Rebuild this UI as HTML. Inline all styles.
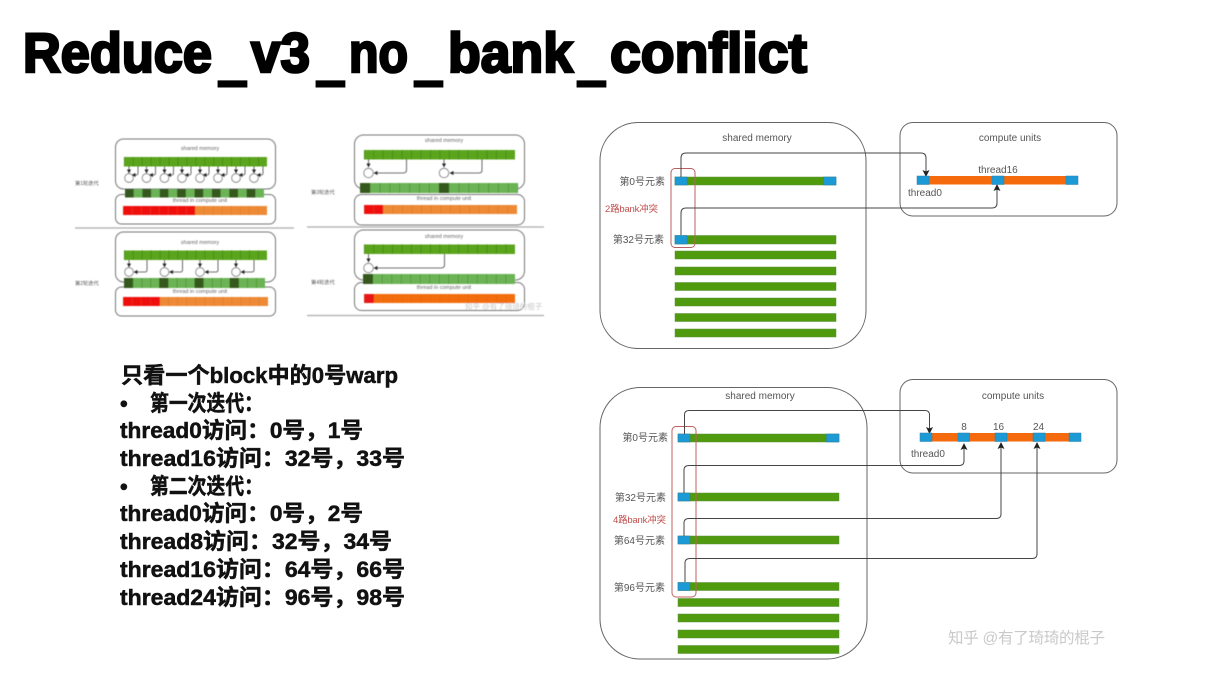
<!DOCTYPE html>
<html lang="zh"><head><meta charset="utf-8"><title>Reduce_v3_no_bank_conflict</title>
<style>
html,body{margin:0;padding:0;background:#fff}
svg{display:block;font-family:"Liberation Sans","Noto Sans CJK SC",sans-serif}
.box{fill:none;stroke:#666;stroke-width:1}
.tb{fill:none;stroke:#777;stroke-width:1}
.con{fill:none;stroke:#444;stroke-width:1}
.t{fill:#555;font-size:10px}
.th{fill:#666;font-size:5.500px;text-anchor:middle}
.tl{fill:#555;font-size:5.200px}
.g{fill:#4f9a10;stroke:#5b8f3a;stroke-width:.5}
.b{fill:#1b9ad6;stroke:#2a7fa8;stroke-width:.5}
.o{fill:#f56a0a}
.big{font-size:22px;font-weight:bold;fill:#111;stroke:#111;stroke-width:.5}
.ti{font-size:56px;font-weight:bold;fill:#000;stroke:#000;stroke-width:2.600}
.us{font-size:56px;font-weight:bold;fill:#000;stroke:#000;stroke-width:5}
</style></head><body>
<svg width="1216" height="677" viewBox="0 0 1216 677" xmlns="http://www.w3.org/2000/svg">
<defs>
<marker id="a" markerWidth="8" markerHeight="8" refX="6" refY="3.500" orient="auto" markerUnits="userSpaceOnUse"><path d="M0 0L7 3.500L0 7L1.500 3.500Z" fill="#222"/></marker>
<marker id="s" markerWidth="5" markerHeight="5" refX="3.500" refY="2" orient="auto" markerUnits="userSpaceOnUse"><path d="M0 0L4 2L0 4Z" fill="#222"/></marker>
<filter id="bl" x="-5%" y="-5%" width="110%" height="110%"><feGaussianBlur stdDeviation=".45"/></filter>
<filter id="bs" x="-5%" y="-5%" width="110%" height="110%"><feGaussianBlur stdDeviation=".35"/></filter>
<g id="c1"><circle cx="0" cy="0" r="4.300" fill="#fff" stroke="#666" stroke-width=".8"/><path d="M0 -12V-5" stroke="#444" stroke-width=".8" marker-end="url(#s)"/><path d="M9 -12V-5Q9 -3 7 -3H3" fill="none" stroke="#444" stroke-width=".8" marker-end="url(#s)"/></g>
<g id="c2"><circle cx="0" cy="0" r="4.300" fill="#fff" stroke="#666" stroke-width=".8"/><path d="M0 -12V-5" stroke="#444" stroke-width=".8" marker-end="url(#s)"/><path d="M18 -12V-2Q18 0 16 0H5" fill="none" stroke="#444" stroke-width=".8" marker-end="url(#s)"/></g>
</defs>

<text class="ti" x="23" y="72" textLength="189" lengthAdjust="spacingAndGlyphs">Reduce</text>
<text class="us" x="220" y="78" textLength="25" lengthAdjust="spacingAndGlyphs">_</text>
<text class="ti" x="251" y="72" textLength="59" lengthAdjust="spacingAndGlyphs">v3</text>
<text class="us" x="318" y="78" textLength="25" lengthAdjust="spacingAndGlyphs">_</text>
<text class="ti" x="349" y="72" textLength="59" lengthAdjust="spacingAndGlyphs">no</text>
<text class="us" x="416" y="78" textLength="25" lengthAdjust="spacingAndGlyphs">_</text>
<text class="ti" x="448" y="72" textLength="125" lengthAdjust="spacingAndGlyphs">bank</text>
<text class="us" x="579" y="78" textLength="25" lengthAdjust="spacingAndGlyphs">_</text>
<text class="ti" x="610" y="72" textLength="197" lengthAdjust="spacingAndGlyphs">conflict</text>

<!-- thumbnails -->
<g filter="url(#bl)">
<!-- panel 1 -->
<rect class="tb" x="115.500" y="139" width="160" height="50" rx="8"/>
<text class="th" x="200" y="150">shared memory</text>
<rect x="124" y="157" width="143" height="9.500" fill="#5aa51c"/>
<line x1="124" y1="161.700" x2="267" y2="161.700" stroke="#3f7d1a" stroke-width="9.500" stroke-dasharray=".6 8.340"/>
<use href="#c1" x="129" y="178"/><use href="#c1" x="146.500" y="178"/><use href="#c1" x="164.500" y="178"/><use href="#c1" x="182" y="178"/><use href="#c1" x="200" y="178"/><use href="#c1" x="218" y="178"/><use href="#c1" x="236" y="178"/><use href="#c1" x="254" y="178"/>
<rect class="tb" x="115.500" y="194.500" width="160" height="29.500" rx="6"/>
<rect x="125" y="189" width="139" height="8.500" fill="#6cb356"/>
<line x1="125" y1="193.200" x2="264" y2="193.200" stroke="#35591f" stroke-width="8.500" stroke-dasharray="8.690 8.690"/>
<text class="th" x="200" y="202">thread in compute unit</text>
<rect x="123" y="206" width="72" height="9" fill="#f01010"/><rect x="195" y="206" width="72" height="9" fill="#ee8a35"/>
<line x1="123" y1="210.500" x2="267" y2="210.500" stroke="#b0662a" stroke-opacity=".5" stroke-width="9" stroke-dasharray=".5 8.500"/>
<text class="tl" x="75" y="185">第1轮迭代</text>
<line x1="75" y1="228" x2="294" y2="228" stroke="#aaa" stroke-width="1.200"/>

<!-- panel 2 -->
<rect class="tb" x="115.500" y="232" width="160" height="50" rx="8"/>
<text class="th" x="200" y="244">shared memory</text>
<rect x="124" y="250.500" width="143" height="9.500" fill="#5aa51c"/>
<line x1="124" y1="255" x2="267" y2="255" stroke="#3f7d1a" stroke-width="9.500" stroke-dasharray=".6 8.340"/>
<use href="#c2" x="129" y="272"/><use href="#c2" x="164.500" y="272"/><use href="#c2" x="200" y="272"/><use href="#c2" x="236" y="272"/>
<rect class="tb" x="115.500" y="287" width="160" height="29" rx="6"/>
<rect x="124" y="278" width="141" height="10" fill="#6cb356"/>
<line x1="124" y1="283" x2="265" y2="283" stroke="#3f7d1a" stroke-width="10" stroke-dasharray=".5 8.310"/>
<line x1="124" y1="283" x2="265" y2="283" stroke="#35591f" stroke-width="10" stroke-dasharray="8.810 26.440"/>
<text class="th" x="200" y="293">thread in compute unit</text>
<rect x="123" y="297" width="37" height="9" fill="#f01010"/><rect x="160" y="297" width="108" height="9" fill="#ee8a35"/>
<line x1="123" y1="301.500" x2="268" y2="301.500" stroke="#b0662a" stroke-opacity=".5" stroke-width="9" stroke-dasharray=".5 8.560"/>
<text class="tl" x="75" y="285">第2轮迭代</text>

<!-- panel 3 -->
<rect class="tb" x="354.500" y="135" width="170" height="54" rx="9"/>
<text class="th" x="444" y="142">shared memory</text>
<rect x="364" y="150" width="151" height="9.500" fill="#5aa51c"/>
<line x1="364" y1="154.700" x2="515" y2="154.700" stroke="#3f7d1a" stroke-width="9.500" stroke-dasharray=".6 8.840"/>
<g fill="none" stroke="#444" stroke-width=".8"><path d="M368.500 159V167" marker-end="url(#s)"/><path d="M406.500 159V170Q406.500 173 403 173H374" marker-end="url(#s)"/><path d="M444 159V167" marker-end="url(#s)"/><path d="M482 159V170Q482 173 479 173H450" marker-end="url(#s)"/></g>
<circle cx="368.500" cy="173" r="4.700" fill="#fff" stroke="#666" stroke-width=".8"/><circle cx="444" cy="173" r="4.700" fill="#fff" stroke="#666" stroke-width=".8"/>
<rect class="tb" x="354.500" y="194.500" width="170" height="30.500" rx="7"/>
<rect x="360" y="183" width="158" height="10" fill="#6cb356"/>
<line x1="360" y1="188" x2="518" y2="188" stroke="#3f7d1a" stroke-width="10" stroke-dasharray=".5 9.370"/>
<line x1="360" y1="188" x2="518" y2="188" stroke="#35591f" stroke-width="10" stroke-dasharray="9.900 69"/>
<text class="th" x="444" y="200">thread in compute unit</text>
<rect x="364" y="205" width="19" height="9" fill="#f01010"/><rect x="383" y="205" width="134" height="9" fill="#ee8a35"/>
<line x1="364" y1="209.500" x2="517" y2="209.500" stroke="#b0662a" stroke-opacity=".5" stroke-width="9" stroke-dasharray=".5 9.060"/>
<text class="tl" x="311" y="194">第3轮迭代</text>
<line x1="307" y1="227" x2="544" y2="227" stroke="#aaa" stroke-width="1.200"/>

<!-- panel 4 -->
<rect class="tb" x="354.500" y="230" width="170" height="50" rx="9"/>
<text class="th" x="444" y="238">shared memory</text>
<rect x="364" y="244.500" width="151" height="9.500" fill="#5aa51c"/>
<line x1="364" y1="249" x2="515" y2="249" stroke="#3f7d1a" stroke-width="9.500" stroke-dasharray=".6 8.840"/>
<g fill="none" stroke="#444" stroke-width=".8"><path d="M368.500 254V262" marker-end="url(#s)"/><path d="M444.500 254V265Q444.500 268 441 268H374" marker-end="url(#s)"/></g>
<circle cx="368.500" cy="268" r="4.700" fill="#fff" stroke="#666" stroke-width=".8"/>
<rect class="tb" x="354.500" y="282.500" width="170" height="28" rx="7"/>
<rect x="363" y="274" width="152" height="10" fill="#6cb356"/>
<line x1="363" y1="279" x2="515" y2="279" stroke="#3f7d1a" stroke-width="10" stroke-dasharray=".5 9"/>
<rect x="363" y="274" width="10" height="10" fill="#35591f"/>
<text class="th" x="444" y="289">thread in compute unit</text>
<rect x="364" y="294" width="10" height="9" fill="#e81818"/><rect x="374" y="294" width="141" height="9" fill="#f46d10"/>
<line x1="364" y1="298.500" x2="515" y2="298.500" stroke="#c2601c" stroke-opacity=".5" stroke-width="9" stroke-dasharray=".5 8.940"/>
<text class="tl" x="311" y="284">第4轮迭代</text>
<line x1="307" y1="315.500" x2="544" y2="315.500" stroke="#aaa" stroke-width="1.200"/>
<text x="465" y="309" font-size="7.500" fill="#c8c8c8">知乎 @有了琦琦的棍子</text>
</g>

<!-- left text -->
<text class="big" x="121" y="383" textLength="277" lengthAdjust="spacingAndGlyphs">只看一个block中的0号warp</text>
<text class="big" x="120" y="411">•</text><text class="big" x="150" y="411" textLength="113" lengthAdjust="spacingAndGlyphs">第一次迭代&#xFF1A;</text>
<text class="big" x="120" y="438" textLength="243" lengthAdjust="spacingAndGlyphs">thread0访问&#xFF1A;0号&#xFF0C;1号</text>
<text class="big" x="120" y="466" textLength="285" lengthAdjust="spacingAndGlyphs">thread16访问&#xFF1A;32号&#xFF0C;33号</text>
<text class="big" x="120" y="494">•</text><text class="big" x="150" y="494" textLength="113" lengthAdjust="spacingAndGlyphs">第二次迭代&#xFF1A;</text>
<text class="big" x="120" y="521" textLength="243" lengthAdjust="spacingAndGlyphs">thread0访问&#xFF1A;0号&#xFF0C;2号</text>
<text class="big" x="120" y="549" textLength="272" lengthAdjust="spacingAndGlyphs">thread8访问&#xFF1A;32号&#xFF0C;34号</text>
<text class="big" x="120" y="577" textLength="285" lengthAdjust="spacingAndGlyphs">thread16访问&#xFF1A;64号&#xFF0C;66号</text>
<text class="big" x="120" y="605" textLength="285" lengthAdjust="spacingAndGlyphs">thread24访问&#xFF1A;96号&#xFF0C;98号</text>

<g filter="url(#bs)">
<!-- right top -->
<rect class="box" x="600" y="122.500" width="266" height="226" rx="38"/>
<rect class="box" x="900" y="122.500" width="217" height="93.500" rx="13"/>
<text class="t" x="757" y="141" text-anchor="middle">shared memory</text>
<text class="t" x="1010" y="141" text-anchor="middle">compute units</text>
<rect class="g" x="675" y="177" width="161" height="8"/>
<rect class="g" x="675" y="235.500" width="161" height="8.500"/>
<rect class="g" x="675" y="251" width="161" height="8"/>
<rect class="g" x="675" y="267" width="161" height="8"/>
<rect class="g" x="675" y="282.500" width="161" height="8"/>
<rect class="g" x="675" y="298" width="161" height="8"/>
<rect class="g" x="675" y="313.500" width="161" height="8"/>
<rect class="g" x="675" y="329" width="161" height="8"/>
<rect class="b" x="675" y="177" width="12" height="8"/>
<rect class="b" x="823.500" y="177" width="12.500" height="8"/>
<rect class="b" x="675" y="235.500" width="12" height="8.500"/>
<rect x="671" y="168.500" width="24" height="79" rx="4" fill="none" stroke="#b8605e" stroke-width="1"/>
<text class="t" x="665" y="185" text-anchor="end">第0号元素</text>
<text class="t" x="664" y="243" text-anchor="end">第32号元素</text>
<text x="605" y="212" font-size="9.500" fill="#c0504d" textLength="53">2路bank冲突</text>
<path class="con" d="M681 177V158Q681 153 686 153H921Q926 153 926 158V176" marker-end="url(#a)"/>
<path class="con" d="M681 235V213Q681 208 686 208H992Q997 208 997 203V185" marker-end="url(#a)"/>
<rect class="o" x="917" y="176" width="161" height="8.500"/>
<rect class="b" x="917" y="176" width="12" height="8.500"/>
<rect class="b" x="992" y="176" width="12" height="8.500"/>
<rect class="b" x="1066" y="176" width="12" height="8.500"/>
<text class="t" x="998" y="173" text-anchor="middle">thread16</text>
<text class="t" x="908" y="196">thread0</text>

<!-- right bottom -->
<rect class="box" x="600" y="387.500" width="267" height="271.500" rx="40"/>
<rect class="box" x="900" y="379.500" width="217" height="93.500" rx="13"/>
<text class="t" x="760" y="399" text-anchor="middle">shared memory</text>
<text class="t" x="1013" y="399" text-anchor="middle">compute units</text>
<rect class="g" x="678" y="434" width="161" height="8"/>
<rect class="g" x="678" y="493" width="161" height="8"/>
<rect class="g" x="678" y="536" width="161" height="8"/>
<rect class="g" x="678" y="582.500" width="161" height="8"/>
<rect class="g" x="678" y="598.500" width="161" height="8"/>
<rect class="g" x="678" y="614" width="161" height="8"/>
<rect class="g" x="678" y="630" width="161" height="8"/>
<rect class="g" x="678" y="645.500" width="161" height="8"/>
<rect class="b" x="678" y="434" width="12" height="8"/>
<rect class="b" x="826.500" y="434" width="12.500" height="8"/>
<rect class="b" x="678" y="493" width="12" height="8"/>
<rect class="b" x="678" y="536" width="12" height="8"/>
<rect class="b" x="678" y="582.500" width="12" height="8"/>
<rect x="672" y="426.500" width="24" height="170.500" rx="4" fill="none" stroke="#c0605e" stroke-width="1"/>
<text class="t" x="668" y="441" text-anchor="end">第0号元素</text>
<text class="t" x="666" y="501" text-anchor="end">第32号元素</text>
<text x="613" y="523" font-size="9.500" fill="#c0504d" textLength="53">4路bank冲突</text>
<text class="t" x="665" y="544" text-anchor="end">第64号元素</text>
<text class="t" x="665" y="591" text-anchor="end">第96号元素</text>
<path class="con" d="M684.500 434V415Q684.500 410.500 689 410.500H925Q929.500 410.500 929.500 415V433" marker-end="url(#a)"/>
<path class="con" d="M684 493V470Q684 465.500 689 465.500H959Q964 465.500 964 461V444" marker-end="url(#a)"/>
<path class="con" d="M684 536V523Q684 518.500 689 518.500H996Q1001 518.500 1001 514V443" marker-end="url(#a)"/>
<path class="con" d="M685 582V563Q685 558.500 690 558.500H1032Q1037 558.500 1037 554V443" marker-end="url(#a)"/>
<rect class="o" x="920" y="433" width="161" height="8.500"/>
<rect class="b" x="920" y="433" width="12" height="8.500"/>
<rect class="b" x="958" y="433" width="11.500" height="8.500"/>
<rect class="b" x="995" y="433" width="12" height="8.500"/>
<rect class="b" x="1033" y="433" width="12" height="8.500"/>
<rect class="b" x="1069" y="433" width="12" height="8.500"/>
<text class="t" x="964" y="430" text-anchor="middle">8</text>
<text class="t" x="998.500" y="430" text-anchor="middle">16</text>
<text class="t" x="1038.500" y="430" text-anchor="middle">24</text>
<text class="t" x="911" y="457">thread0</text>
</g>

<text x="948" y="643" font-size="15.500" fill="#c9c9c9" textLength="157">知乎 @有了琦琦的棍子</text>
</svg>
</body></html>
